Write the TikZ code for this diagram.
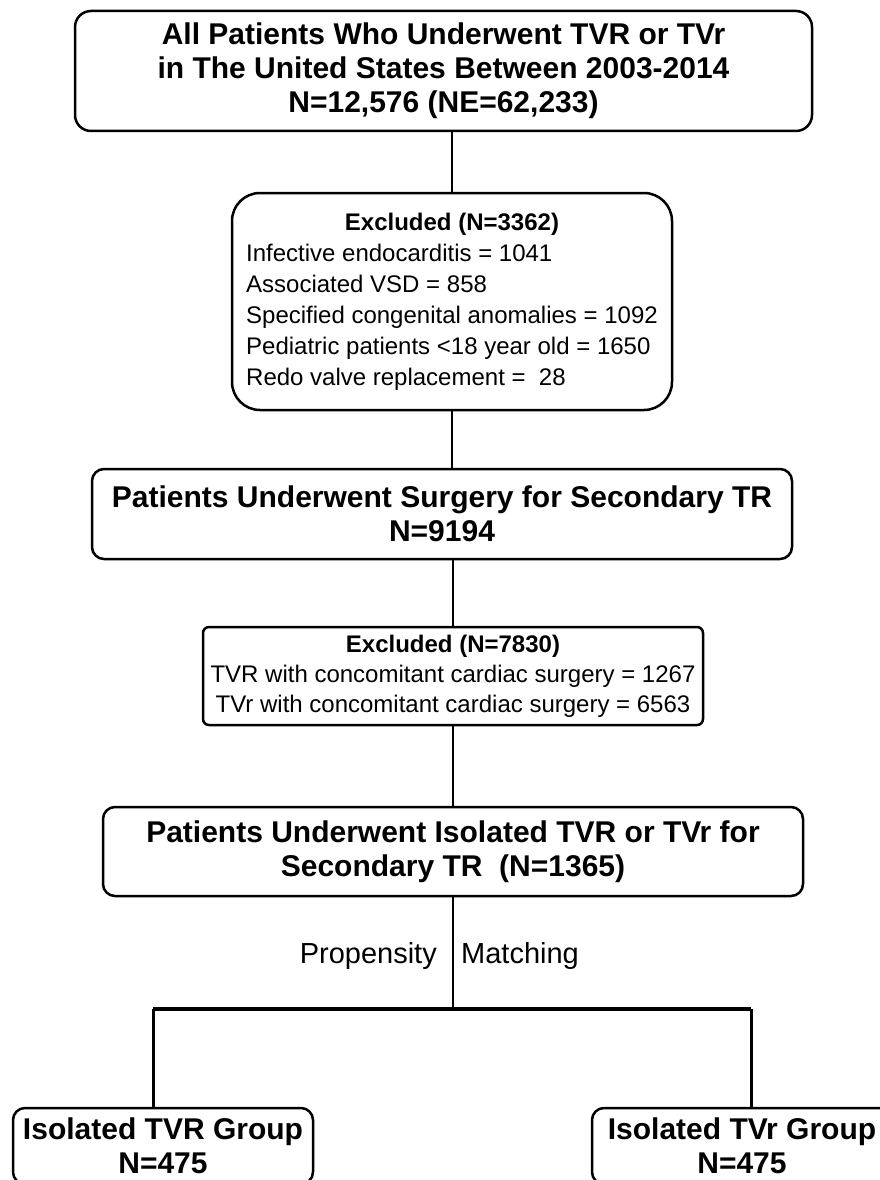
\documentclass[tikz,border=0pt]{standalone}
\usepackage{fontspec}
\setmainfont{Liberation Sans}
\usetikzlibrary{calc}

\begin{document}
\begin{tikzpicture}[x=1pt, y=-1pt,
        box/.style={draw, rounded corners=#1, line width=2.5pt, align=center, inner sep=0pt},
        box/.default=12pt,
        big/.style={font=\fontsize{30}{34}\selectfont\bfseries},
        small/.style={font=\fontsize{24}{31}\selectfont},
        mid/.style={font=\fontsize{29}{34}\selectfont, inner sep=0pt},
        link/.style={line width=2pt}]
            \useasboundingbox (0,0) rectangle (880,1180);
            \clip (0,0) rectangle (880,1180);

            \node[box=16pt, big, minimum width=737pt, minimum height=120pt] (all) at (443.5,71)
                {All Patients Who Underwent TVR or TVr\\in The United States Between 2003-2014\\N=12,576 (NE=62,233)};
            \node[box=28pt, small, minimum width=440pt, minimum height=217pt] (exc1) at (452,301.5)
                {\begin{tabular}{@{}l@{}}
                    \multicolumn{1}{@{}c@{}}{\bfseries Excluded (N=3362)}\\
                    Infective endocarditis = 1041\\
                    Associated VSD = 858\\
                    Specified congenital anomalies = 1092\\
                    Pediatric patients <18 year old = 1650\\
                    Redo valve replacement =\ \ 28
                \end{tabular}};
            \node[box, big, minimum width=700pt, minimum height=90pt] (surg) at (442,514)
                {Patients Underwent Surgery for Secondary TR\\N=9194};
            \node[box=6pt, small, font=\fontsize{24}{30}\selectfont, minimum width=500pt, minimum height=98pt] (exc2) at (453,676)
                {{\bfseries Excluded (N=7830)}\\TVR with concomitant cardiac surgery = 1267\\TVr with concomitant cardiac surgery = 6563};
            \node[box, big, minimum width=700pt, minimum height=89pt] (iso) at (453,851.5)
                {Patients Underwent Isolated TVR or TVr for\\Secondary TR~ (N=1365)};
            \node[box, big, minimum width=300pt, minimum height=76pt] (tvrep) at (163,1146)
                {Isolated TVR Group\\N=475};
            \node[box, big, minimum width=300pt, minimum height=76pt] (tvrpr) at (742,1146)
                {Isolated TVr Group\\N=475};

            \node[mid, anchor=base east] (prop) at (437,963) {Propensity};
            \node[mid, anchor=base west] (match) at (461,963) {Matching};

            \coordinate (split) at (453,1009);
            \coordinate (left) at (153,1009);
            \coordinate (right) at (751,1009);

            \draw[link] (exc1.north) -- (exc1.north |- all.south);
            \draw[link] (exc1.south) -- (exc1.south |- surg.north);
            \draw[link] (exc2.north) -- (exc2.north |- surg.south);
            \draw[link] (exc2.south) -- (exc2.south |- iso.north);
            \draw[link] (iso.south) -- (split);
            \draw[line width=4pt] (left) -- (right);
            \draw[line width=3pt] (left) -- (left |- tvrep.north);
            \draw[line width=3pt] (right) -- (right |- tvrpr.north);
        \end{tikzpicture}
\end{document}
